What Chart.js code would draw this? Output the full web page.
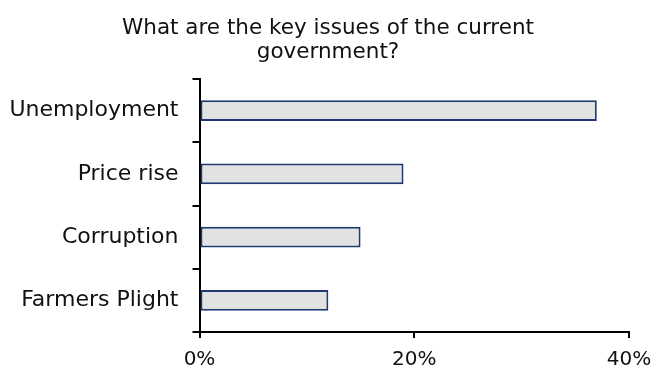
<!DOCTYPE html>
<html>
<head>
<meta charset="utf-8">
<script src="https://cdn.jsdelivr.net/npm/chart.js@4"></script>
<style>
html,body{margin:0;padding:0;background:#fff;}
#wrap{width:656px;height:369px;}
</style>
</head>
<body>
<div id="wrap"><canvas id="c" width="656" height="369"></canvas></div>
<script>
const categories = ["Unemployment", "Price rise", "Corruption", "Farmers Plight"];
const values = [37, 19, 15, 12];
const xTicks = [0, 20, 40];
const titleLines = ["What are the key issues of the current", "government?"];

const FONT = "'DejaVu Sans', sans-serif";

const centeredTitle = {
  id: 'centeredTitle',
  afterDraw(chart) {
    const ctx = chart.ctx;
    ctx.save();
    ctx.font = "21.5px " + FONT;
    ctx.fillStyle = '#111';
    ctx.textAlign = 'center';
    ctx.textBaseline = 'middle';
    titleLines.forEach((t, i) => ctx.fillText(t, chart.width / 2, 28 + i * 24));
    ctx.restore();
  }
};

new Chart(document.getElementById('c'), {
  type: 'bar',
  data: {
    labels: categories,
    datasets: [{
      data: values,
      backgroundColor: '#E2E2E2',
      borderColor: '#1F3A72',
      borderWidth: 2,
      borderSkipped: false,
      categoryPercentage: 1,
      barPercentage: 0.33
    }]
  },
  plugins: [centeredTitle],
  options: {
    indexAxis: 'y',
    responsive: false,
    animation: false,
    devicePixelRatio: 1,
    layout: { padding: { left: 0, right: 27, top: 79, bottom: 0 } },
    plugins: {
      legend: { display: false },
      tooltip: { enabled: false },
      title: { display: false }
    },
    scales: {
      y: {
        type: 'category',
        offset: true,
        grid: { display: true, drawOnChartArea: false, offset: true, tickLength: 7, color: '#000', lineWidth: 2 },
        border: { display: true, color: '#000', width: 2 },
        ticks: { color: '#111', padding: 14, font: { family: FONT, size: 22 } },
        afterFit: s => { s.width = 199.5; }
      },
      x: {
        type: 'linear',
        min: 0, max: 40,
        afterBuildTicks: s => { s.ticks = xTicks.map(v => ({ value: v })); },
        grid: { display: true, drawOnChartArea: false, tickLength: 6, color: '#000', lineWidth: 2 },
        border: { display: true, color: '#000', width: 2 },
        ticks: { color: '#111', padding: 10, maxRotation: 0, font: { family: FONT, size: 20 }, callback: v => v + '%' },
        afterFit: s => { s.height = 37; s.paddingLeft = 0; s.paddingRight = 0; }
      }
    }
  }
});
</script>
</body>
</html>
